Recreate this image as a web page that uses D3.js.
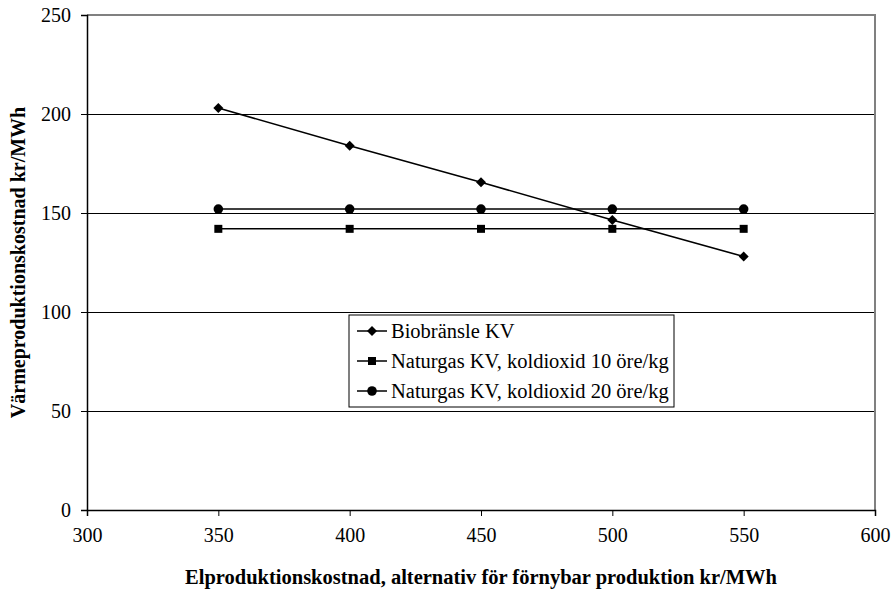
<!DOCTYPE html>
<html><head><meta charset="utf-8">
<script src="https://cdn.jsdelivr.net/npm/d3@7"></script>
<style>body{margin:0;background:#fff}svg{display:block}</style>
</head><body>
<script>
const xValues = [350, 400, 450, 500, 550];
const seriesNames = ["Biobränsle KV", "Naturgas KV, koldioxid 10 öre/kg", "Naturgas KV, koldioxid 20 öre/kg"];
const bioValues = [203, 184, 165.5, 146.5, 128];
const gas10Values = [142, 142, 142, 142, 142];
const gas20Values = [152, 152, 152, 152, 152];
const markerTypes = ["diamond", "square", "circle"];
const xTicks = [300, 350, 400, 450, 500, 550, 600];
const yTicks = [0, 50, 100, 150, 200, 250];
const xTitle = "Elproduktionskostnad, alternativ för förnybar produktion kr/MWh";
const yTitle = "Värmeproduktionskostnad kr/MWh";

const W = 892, H = 590;
const font = "'Liberation Serif', 'Times New Roman', serif";
const svg = d3.select("body").append("svg").attr("width", W).attr("height", H);
const x = d3.scaleLinear().domain([300, 600]).range([87, 875]);
const y = d3.scaleLinear().domain([0, 250]).range([510, 15]);

// gridlines
svg.append("g").selectAll("line").data(yTicks.filter(v => v > 0 && v < 250)).join("line")
  .attr("x1", x(300)).attr("x2", x(600)).attr("y1", d => y(d)).attr("y2", d => y(d))
  .attr("stroke", "#000").attr("stroke-width", 1).attr("shape-rendering", "crispEdges");
// border top & right (gray)
svg.append("path").attr("d", `M${x(300)},${y(250)}H${x(600)}V${y(0)}`)
  .attr("fill", "none").attr("stroke", "#808080").attr("stroke-width", 2);

// axes
const yAxis = svg.append("g").attr("transform", `translate(${x(300)},0)`)
  .call(d3.axisLeft(y).tickValues(yTicks).tickSize(6).tickPadding(10));
const xAxis = svg.append("g").attr("transform", `translate(0,${y(0)})`)
  .call(d3.axisBottom(x).tickValues(xTicks).tickSize(6).tickPadding(12));
[yAxis, xAxis].forEach(a => {
  a.selectAll("path").attr("stroke", "#000").attr("stroke-width", 1.5);
  a.selectAll("line").attr("stroke", "#000");
  a.selectAll("text").attr("font-family", font).attr("font-size", 20).attr("fill", "#000");
});

// series
const allSeries = [bioValues, gas10Values, gas20Values];
const line = d3.line().x((d, i) => x(xValues[i])).y(d => y(d));
const sym = {
  diamond: "M0,-5L5,0L0,5L-5,0Z",
  square: d3.symbol().type(d3.symbolSquare).size(64)(),
  circle: d3.symbol().type(d3.symbolCircle).size(72)()
};
allSeries.forEach((vals, si) => {
  svg.append("path").datum(vals).attr("d", line).attr("fill", "none")
    .attr("stroke", "#000").attr("stroke-width", 1.5);
  svg.append("g").selectAll("path").data(vals).join("path")
    .attr("transform", (d, i) => `translate(${x(xValues[i])},${y(d)})`)
    .attr("d", sym[markerTypes[si]]).attr("fill", "#000");
});

// legend
const lg = svg.append("g");
lg.append("rect").attr("x", 349).attr("y", 315).attr("width", 325).attr("height", 92)
  .attr("fill", "#fff").attr("stroke", "#000").attr("stroke-width", 1);
seriesNames.forEach((name, i) => {
  const cy = 331 + i * 30;
  lg.append("line").attr("x1", 357).attr("x2", 387).attr("y1", cy).attr("y2", cy)
    .attr("stroke", "#000").attr("stroke-width", 1.5);
  lg.append("path").attr("transform", `translate(372,${cy})`).attr("d", sym[markerTypes[i]]).attr("fill", "#000");
  lg.append("text").attr("x", 391).attr("y", cy).attr("dy", "0.35em")
    .attr("font-family", font).attr("font-size", 20.5).text(name);
});

// titles
svg.append("text").attr("x", (x(300) + x(600)) / 2).attr("y", 584).attr("text-anchor", "middle")
  .attr("font-family", font).attr("font-size", 20.5).attr("font-weight", "bold").text(xTitle);
svg.append("text").attr("transform", `translate(25,${(y(0) + y(250)) / 2}) rotate(-90)`)
  .attr("text-anchor", "middle").attr("font-family", font).attr("font-size", 20).attr("font-weight", "bold").text(yTitle);
</script>
</body></html>
